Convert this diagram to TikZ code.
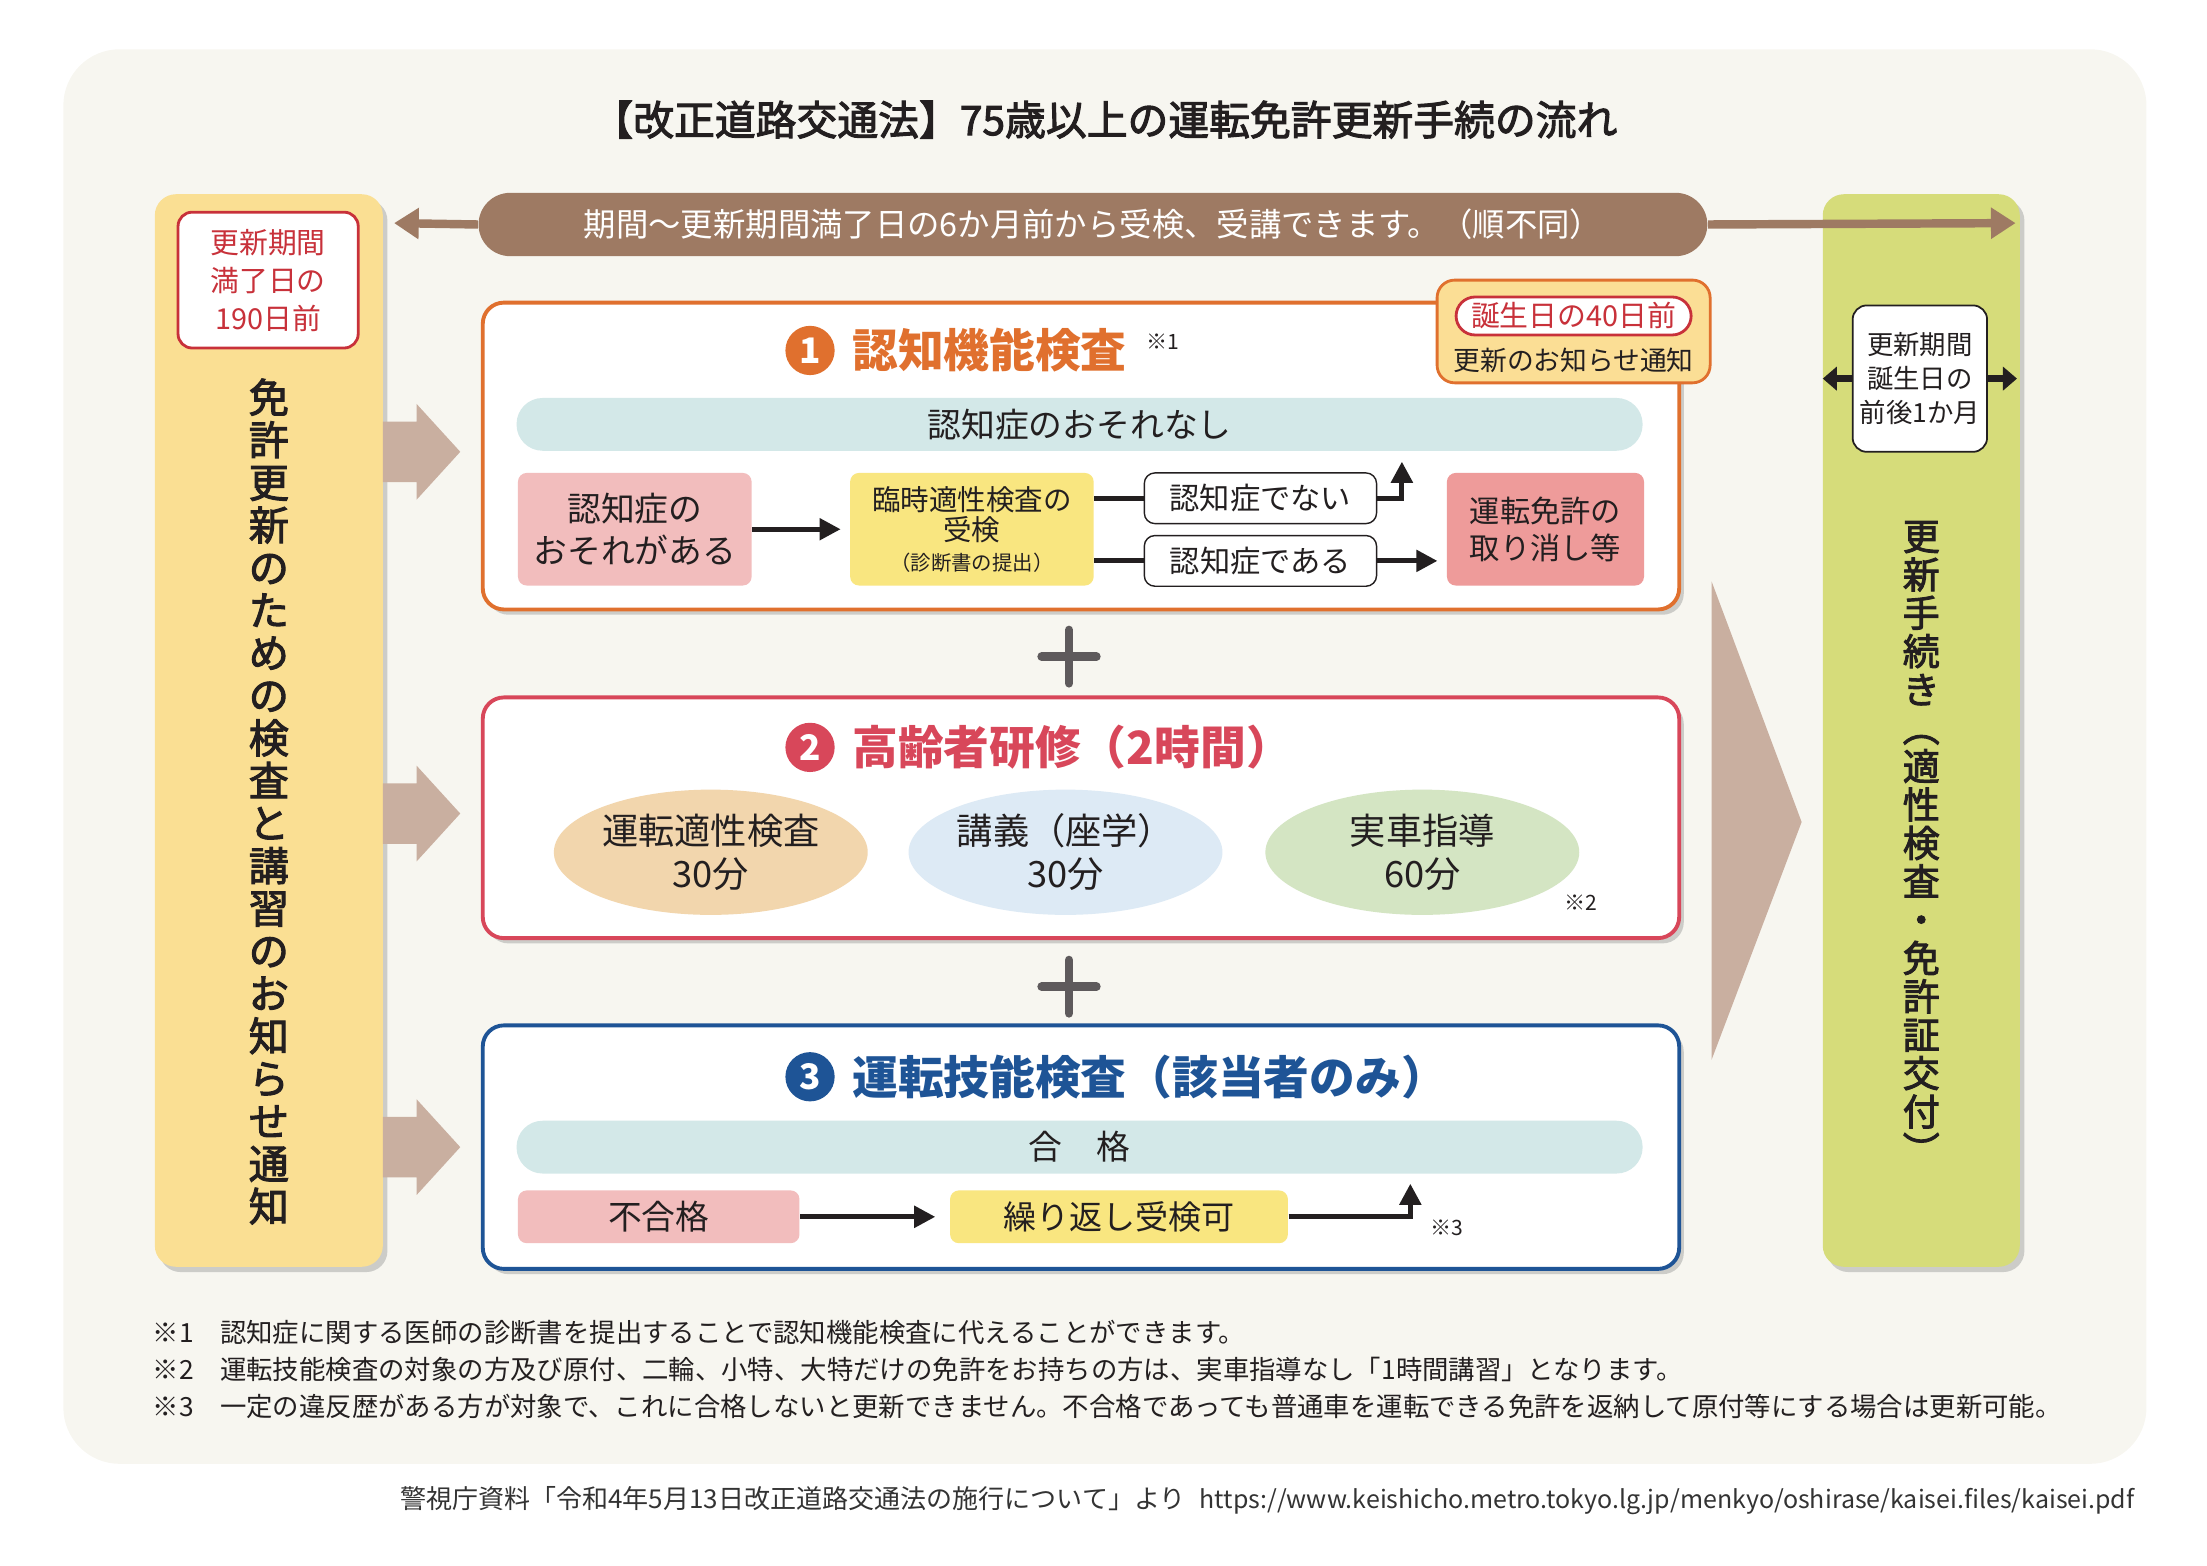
\documentclass[tikz,border=0pt]{standalone}
\usepackage{fontspec}
\setmainfont{Noto Sans CJK JP}
\newfontfamily\medfont[FakeBold=2.5]{Noto Sans CJK JP}
\usepackage{tikz}
\usetikzlibrary{arrows.meta,shapes,shadows}
\definecolor{bgcream}{HTML}{F7F6F0}
\definecolor{textdark}{HTML}{231F20}
\definecolor{colyellow}{HTML}{FADF93}
\definecolor{colgreen}{HTML}{D6DC7A}
\definecolor{pillbrown}{HTML}{9E7A63}
\definecolor{bigarrow}{HTML}{C9AFA0}
\definecolor{orangeline}{HTML}{E0702E}
\definecolor{redline}{HTML}{D8475A}
\definecolor{blueline}{HTML}{1E5496}
\definecolor{darkred}{HTML}{C8313A}
\definecolor{tealpill}{HTML}{D3E8E8}
\definecolor{pinkbox}{HTML}{F2BDBD}
\definecolor{yellowbox}{HTML}{F9E680}
\definecolor{salmonbox}{HTML}{EE9B9A}
\definecolor{noteyellow}{HTML}{FBDE95}
\definecolor{ochre}{HTML}{F2D6AD}
\definecolor{skyblue}{HTML}{DDEAF5}
\definecolor{sage}{HTML}{D4E5C3}
\definecolor{plusgray}{HTML}{5E5A5C}
\newcommand{\fs}[2]{\fontsize{#1}{#2}\selectfont}

\begin{document}
\begin{tikzpicture}[x=0.4pt,y=-0.4pt,text=textdark,
  shade/.style={drop shadow={shadow xshift=1.3pt,shadow yshift=-1.5pt,fill=black!40,opacity=.45}},
  column/.style={rounded corners=6pt,minimum height=304.8pt,inner sep=0pt,shade},
  bigbox/.style={draw=#1,line width=1.1pt,fill=white,rounded corners=6pt,minimum width=340pt,inner sep=0pt,shade},
  numdot/.style={circle,fill=#1,inner sep=0pt,minimum size=14pt,text=white,font=\bfseries\fs{10}{10}},
  boxtitle/.style={anchor=west,inner sep=0pt,text=#1,font=\bfseries\fs{13}{14}},
  flowbox/.style={rounded corners=2.5pt,minimum height=32pt,inner sep=0pt,align=center},
  answer/.style={draw=textdark,line width=0.4pt,fill=white,rounded corners=3pt,minimum width=66pt,minimum height=14.4pt,inner sep=0pt,font=\fs{8.6}{10}},
  pill/.style={fill=tealpill,rounded corners=7.4pt,minimum width=320pt,minimum height=15pt,inner sep=0pt,font=\fs{9.6}{11}},
  lesson/.style={ellipse,fill=#1,minimum width=89.2pt,minimum height=35.6pt,inner sep=0pt,align=center,font=\fs{10.3}{12.2}},
  flow/.style={-{Triangle[length=6pt,width=6pt]},line width=1.4pt,draw=textdark,shorten >=2.5pt},
  flowline/.style={line width=1.4pt,draw=textdark},
  small/.style={inner sep=0pt,font=\fs{6}{7}},
  note/.style={anchor=west,inner sep=0pt,font=\fs{7.5}{9}},
  plus/.style={line width=2.4pt,draw=plusgray,line cap=round}]
\useasboundingbox (0,0) rectangle (1568,1112);
\fill[bgcream,rounded corners=16pt] (45,35) rectangle (1525,1040);

\node (title) at (785,85)[inner sep=0pt,font=\medfont\fs{11.6}{13}] {【改正道路交通法】75歳以上の運転免許更新手続の流れ};

% columns
\node (L) at (191,519)[column,fill=colyellow,minimum width=64.8pt] {};
\node (Lbox) at (190.5,199)[draw=darkred,line width=0.8pt,fill=white,rounded corners=4pt,minimum width=51.2pt,minimum height=38.6pt,inner sep=0pt,align=center,text=darkred,font=\fs{8.2}{10.8}] {更新期間\\満了日の\\190日前};
\node (Lv) at (191,569.5)[inner sep=0pt,align=center,font=\medfont\fs{11.4}{12.1}] {免\\許\\更\\新\\の\\た\\め\\の\\検\\査\\と\\講\\習\\の\\お\\知\\ら\\せ\\通\\知};
\node (R) at (1365,519)[column,fill=colgreen,minimum width=56pt] {};
\node (Rbox) at (1364,269)[draw=textdark,line width=0.5pt,fill=white,rounded corners=4pt,minimum width=38.2pt,minimum height=41.6pt,inner sep=0pt,align=center,font=\fs{7.5}{9.6}] {更新期間\\誕生日の\\前後1か月};
\node (Rv) at (1365,598.5)[inner sep=0pt,align=center,font=\medfont\fs{10.5}{10.9}] {更\\新\\手\\続\\き\\︵\\適\\性\\検\\査\\・\\免\\許\\証\\交\\付\\︶};
\coordinate (rl) at (1295,269);
\coordinate (rr) at (1433,269);
\draw [-{Triangle[length=4pt,width=6.6pt]},line width=2pt,draw=textdark] (Rbox.west) -- (rl);
\draw [-{Triangle[length=4pt,width=6.6pt]},line width=2pt,draw=textdark] (Rbox.east) -- (rr);

% period
\node (period) at (776.5,159.5)[fill=pillbrown,rounded corners=9pt,minimum width=349.2pt,minimum height=18pt,inner sep=0pt,text=white,font=\fs{9.2}{10}] {期間～更新期間満了日の6か月前から受検、受講できます。（順不同）};
\coordinate (pl) at (280,158.5);
\coordinate (pr) at (1432,158.5);
\draw [-{Triangle[length=7pt,width=8.5pt]},line width=2.4pt,draw=pillbrown] (period.west) -- (pl);
\draw [-{Triangle[length=7pt,width=8.5pt]},line width=2.4pt,draw=pillbrown] (period.east) -- (pr);

\foreach \y in {321,578,815}
  \fill[bigarrow] (272,\y-21.5) -- (296,\y-21.5) -- (296,\y-34) -- (327,\y) -- (296,\y+34) -- (296,\y+21.5) -- (272,\y+21.5) -- cycle;
\fill[bigarrow] (1216,413) -- (1280,584) -- (1216,753) -- cycle;

% box 1
\node (B1) at (768,324)[bigbox=orangeline,minimum height=87.2pt] {};
\node (n1) at (575.5,249)[numdot=orangeline] {1};
\node (t1) at (605,249)[boxtitle=orangeline] {認知機能検査};
\node (s1) at (826,243)[small] {※1};
\node (N) at (1118,235.5)[draw=orangeline,line width=0.8pt,fill=noteyellow,rounded corners=5pt,minimum width=77.6pt,minimum height=29.2pt,inner sep=0pt] {};
\node (Npill) at (1118,224.5)[draw=darkred,line width=0.8pt,fill=white,rounded corners=5.4pt,minimum width=66.8pt,minimum height=10.8pt,inner sep=0pt,text=darkred,font=\fs{8.2}{9}] {誕生日の40日前};
\node (Ntext) at (1118,256)[inner sep=0pt,font=\fs{7.6}{9}] {更新のお知らせ通知};
\node (T1) at (767,301.5)[pill] {認知症のおそれなし};
\node (P1) at (451,376)[flowbox,fill=pinkbox,minimum width=66.4pt,font=\fs{9.6}{12}] {認知症の\\おそれがある};
\node (Y1) at (690.5,376)[flowbox,fill=yellowbox,minimum width=69.2pt,font=\fs{8.1}{8.5}] {臨時適性検査の\\受検\\{\fs{5.8}{8.5}（診断書の提出）}};
\node (A1) at (895.5,354)[answer] {認知症でない};
\node (A2) at (895.5,398.5)[answer] {認知症である};
\node (X1) at (1098,376)[flowbox,fill=salmonbox,minimum width=56pt,font=\fs{8.6}{10.4}] {運転免許の\\取り消し等};
\coordinate (up1) at (996,328);
\draw [flow] (P1) to (Y1);
\draw [flowline] (Y1.east |- A1.west) -- (A1.west);
\draw [flowline] (Y1.east |- A2.west) -- (A2.west);
\draw [flow,shorten >=0pt] (A1.east) -| (up1);
\draw [flow] (A2.east) -- (A2.east -| X1.west);

\draw [plus] (740,466.5) -- (779,466.5) (759.5,447.5) -- (759.5,485.5);

% box 2
\node (B2) at (768,581)[bigbox=redline,minimum height=68.4pt] {};
\node (n2) at (575.5,531)[numdot=redline] {2};
\node (t2) at (605,531)[boxtitle=redline] {高齢者研修（2時間）};
\node (E1) at (505,605.5)[lesson=ochre] {運転適性検査\\30分};
\node (E2) at (757,605.5)[lesson=skyblue] {講義（座学）\\30分};
\node (E3) at (1010.5,605.5)[lesson=sage] {実車指導\\60分};
\node (s2) at (1123,641)[small] {※2};

\draw [plus] (740,701) -- (779,701) (759.5,682) -- (759.5,720);

% box 3
\node (B3) at (768,815)[bigbox=blueline,minimum height=69.2pt] {};
\node (n3) at (575.5,765)[numdot=blueline] {3};
\node (t3) at (605,765)[boxtitle=blueline] {運転技能検査（該当者のみ）};
\node (T3) at (767,815)[pill] {合　格};
\node (F3) at (468,864.5)[flowbox,fill=pinkbox,minimum width=80pt,minimum height=15pt,font=\fs{9.6}{11}] {不合格};
\node (R3) at (795,864.5)[flowbox,fill=yellowbox,minimum width=96pt,minimum height=15pt,font=\fs{9.4}{11}] {繰り返し受検可};
\coordinate (up3) at (1002,841);
\draw [flow,shorten >=4pt] (F3) to (R3);
\draw [flow,shorten >=0pt] (R3.east) -| (up3);
\node (s3) at (1028,872.5)[small] {※3};

% notes
\node (note1) at (108,947)[note] {※1　認知症に関する医師の診断書を提出することで認知機能検査に代えることができます。};
\node (note2) at (108,973)[note] {※2　運転技能検査の対象の方及び原付、二輪、小特、大特だけの免許をお持ちの方は、実車指導なし「1時間講習」となります。};
\node (note3) at (108,999)[note] {※3　一定の違反歴がある方が対象で、これに合格しないと更新できません。不合格であっても普通車を運転できる免許を返納して原付等にする場合は更新可能。};
\node (src) at (1517,1066)[anchor=east,inner sep=0pt,text=black!80,font=\fs{7.4}{9}] {警視庁資料「令和4年5月13日改正道路交通法の施行について」より\hspace{4pt}{\fs{7.1}{9}https://www.keishicho.metro.tokyo.lg.jp/menkyo/oshirase/kaisei.files/kaisei.pdf}};
\end{tikzpicture}
\end{document}
